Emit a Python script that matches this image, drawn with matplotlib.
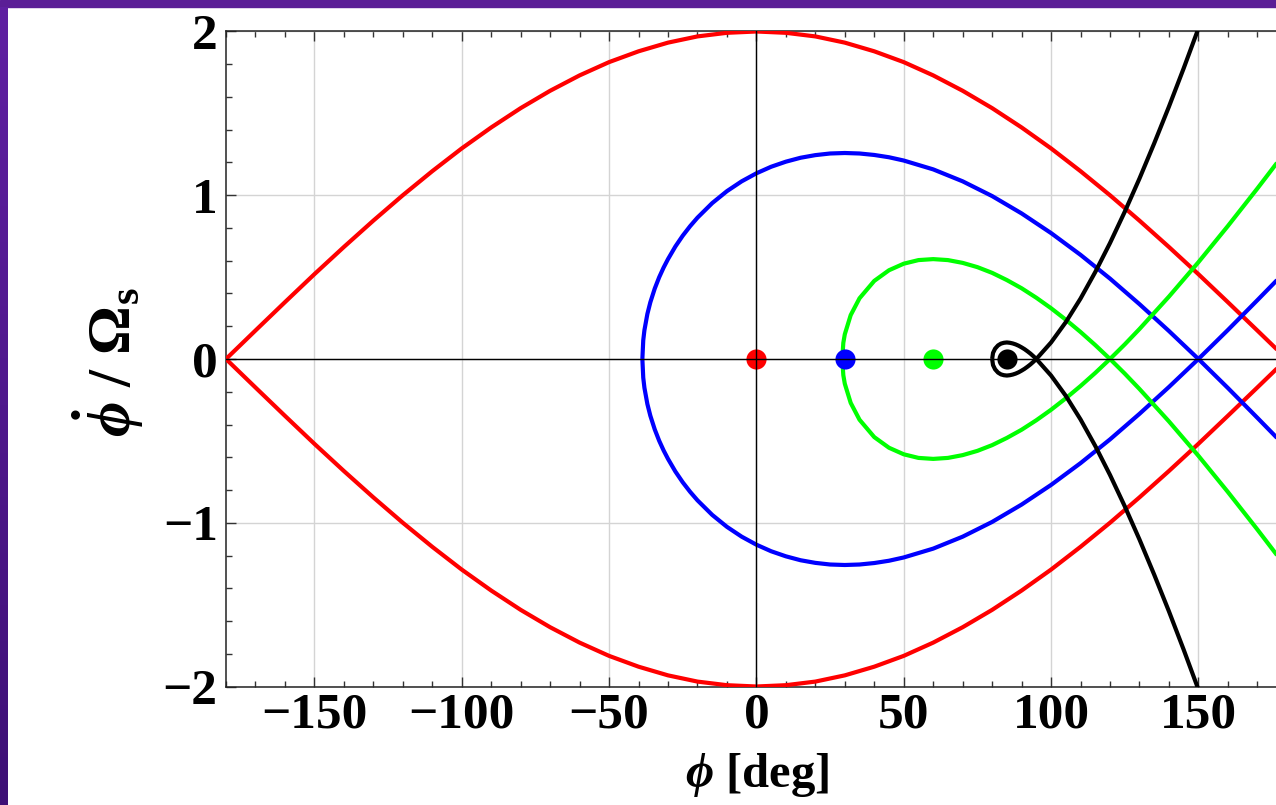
import numpy as np
import matplotlib
matplotlib.use('Agg')
import matplotlib.pyplot as plt
from matplotlib.ticker import MultipleLocator
from matplotlib.patches import Rectangle

plt.rcParams['font.family'] = 'Liberation Serif'
plt.rcParams['font.weight'] = 'bold'
plt.rcParams['mathtext.fontset'] = 'custom'
plt.rcParams['mathtext.rm'] = 'Liberation Serif:bold'
plt.rcParams['mathtext.it'] = 'Liberation Serif:italic:bold'
plt.rcParams['mathtext.bf'] = 'Liberation Serif:bold'

# upper branch of each separatrix (phi in deg, phidot / Omega_s); lower branch is the mirror image
red_phi = [-180, -170, -160, -150, -140, -130, -120, -110, -100, -90, -80, -70, -60, -50, -40, -30, -20, -10,
           0, 10, 20, 30, 40, 50, 60, 70, 80, 90, 100, 110, 120, 130, 140, 150, 160, 170, 180]
red_top = [0, 0.174, 0.347, 0.518, 0.684, 0.845, 1.000, 1.147, 1.286, 1.414, 1.532, 1.638, 1.732, 1.813, 1.879, 1.932, 1.970, 1.992,
           2.000, 1.992, 1.970, 1.932, 1.879, 1.813, 1.732, 1.638, 1.532, 1.414, 1.286, 1.147, 1.000, 0.845, 0.684, 0.518, 0.347, 0.174, 0]

blue_phi = [-38.7, -38.4, -38, -37, -36, -34.5, -33, -31.5, -30, -27.5, -25, -22.5, -20, -15, -10, -5, 0, 5, 10, 15,
            20, 25, 30, 35, 40, 45, 50, 60, 70, 80, 90, 100, 110, 120, 130, 140, 150, 160, 170, 180]
blue_top = [0, 0.114, 0.176, 0.275, 0.346, 0.430, 0.499, 0.558, 0.610, 0.687, 0.753, 0.811, 0.863, 0.952, 1.025, 1.085, 1.134, 1.174, 1.205, 1.229,
            1.245, 1.255, 1.258, 1.255, 1.246, 1.232, 1.212, 1.158, 1.085, 0.995, 0.889, 0.769, 0.636, 0.491, 0.335, 0.171, 0, -0.177, -0.359, -0.543]

green_phi = [29.13, 29.5, 30, 32, 35, 40, 45, 50, 55, 60, 65, 70, 75, 80, 85, 90, 95, 100, 105, 110, 115, 120,
             125, 130, 140, 150, 160, 170, 180]
green_top = [0, 0.099, 0.151, 0.268, 0.371, 0.477, 0.542, 0.582, 0.604, 0.610, 0.604, 0.587, 0.561, 0.526, 0.482, 0.432, 0.374, 0.310, 0.240, 0.165, 0.085, 0,
             -0.089, -0.183, -0.381, -0.591, -0.812, -1.041, -1.276]

black_phi = [80, 80.3, 81, 82, 83, 84, 85, 86, 87, 88, 89, 90, 91, 92, 93, 94, 95,
             100, 105, 110, 115, 120, 125, 130, 135, 140, 145, 150]
black_top = [0, 0.037, 0.063, 0.083, 0.094, 0.099, 0.101, 0.099, 0.095, 0.089, 0.081, 0.071, 0.060, 0.047, 0.033, 0.017, 0,
             -0.101, -0.225, -0.369, -0.531, -0.708, -0.899, -1.102, -1.317, -1.541, -1.775, -2.018]

sync_phase = [0, 30, 60, 85]
curve_colors = ['#ff0000', '#0000ff', '#00ff00', '#000000']

x_ticks = [-150, -100, -50, 0, 50, 100, 150]
y_ticks = [-2, -1, 0, 1, 2]

fig = plt.figure(figsize=(12.76, 8.05), dpi=100)
fig.patch.set_facecolor('white')

# purple frame strips of the slide
top_band = Rectangle((0, 1 - 7 / 805), 1, 7 / 805, transform=fig.transFigure, color='#5b1e96', zorder=0)
fig.add_artist(top_band)
bg = fig.add_axes([0, 0, 8 / 1276, 1 - 7 / 805])
grad = np.linspace(0, 1, 200)[:, None, None]
c_top = np.array([96, 32, 162]) / 255
c_bot = np.array([62, 16, 118]) / 255
bg.imshow(c_top * (1 - grad) + c_bot * grad, aspect='auto')
bg.axis('off')

ax = fig.add_axes([226 / 1276, 118.5 / 805, 1060.8 / 1276, 655 / 805])

curves = [(red_phi, red_top), (blue_phi, blue_top), (green_phi, green_top), (black_phi, black_top)]
for (phi, top), col in zip(curves, curve_colors):
    phi = np.array(phi)
    top = np.array(top)
    ax.plot(phi, top, color=col, lw=3, zorder=3, solid_capstyle='butt', solid_joinstyle='round')
    ax.plot(phi, -top, color=col, lw=3, zorder=3, solid_capstyle='butt', solid_joinstyle='round')

for ps, col in zip(sync_phase, curve_colors):
    ax.plot(ps, 0, 'o', color=col, ms=14.5, mec='none', zorder=4)

ax.axhline(0, color='black', lw=1.0, zorder=5)
ax.axvline(0, color='black', lw=1.0, zorder=5)

ax.set_xlim(-180, 180)
ax.set_ylim(-2, 2)
ax.set_xticks(x_ticks)
ax.set_yticks(y_ticks)
ax.xaxis.set_minor_locator(MultipleLocator(10))
ax.yaxis.set_minor_locator(MultipleLocator(0.2))
ax.grid(True, which='major', color='#d4d4d4', lw=1.0)
ax.set_axisbelow(True)
ax.tick_params(which='both', direction='in', top=True, right=True, width=1.0, color='#333333')
ax.tick_params(which='major', length=7.5, labelsize=37)
ax.tick_params(which='minor', length=4.5)
ax.tick_params(axis='x', pad=4)
ax.tick_params(axis='y', pad=6)
for sp in ax.spines.values():
    sp.set_linewidth(1.1)
    sp.set_color('#222222')

fig.text(757 / 1276, 18 / 805, r'$ϕ$ [deg]', ha='center', va='baseline', fontsize=35, fontweight='bold')
fig.text(108 / 1276, 1 - 362 / 805, r'$\dot{ϕ}$ / $\Omega_{\mathrm{s}}$', ha='center', va='center',
         rotation=90, fontsize=44, fontweight='bold')

fig.savefig('out.png', dpi=100)
